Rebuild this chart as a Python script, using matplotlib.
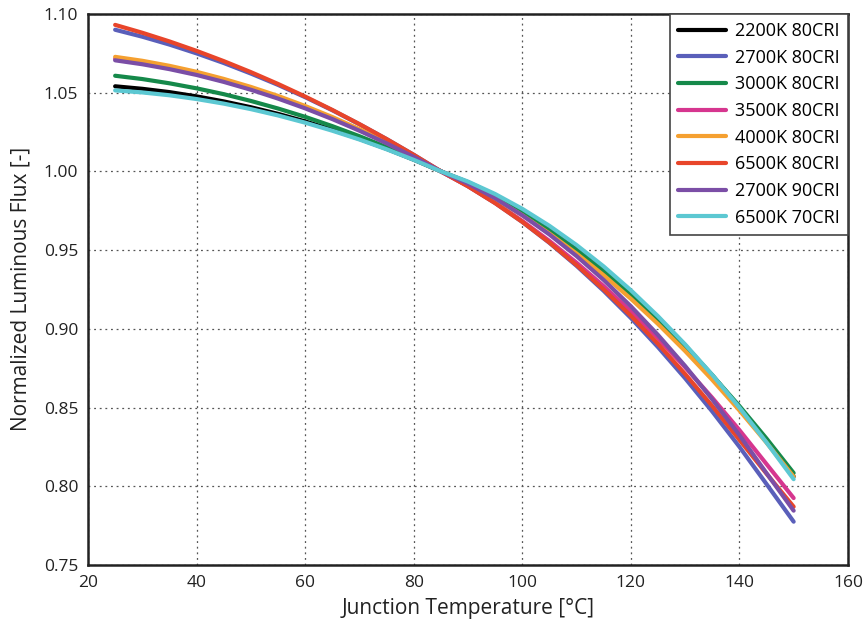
import matplotlib
matplotlib.use("Agg")
import matplotlib.pyplot as plt

plt.rcParams['font.family'] = ['Open Sans', 'DejaVu Sans']

temps = [25, 30, 35, 40, 45, 50, 55, 60, 65, 70, 75, 80, 85, 90, 95, 100,
         105, 110, 115, 120, 125, 130, 135, 140, 145, 150]

labels = ["2200K 80CRI", "2700K 80CRI", "3000K 80CRI", "3500K 80CRI",
          "4000K 80CRI", "6500K 80CRI", "2700K 90CRI", "6500K 70CRI"]

flux_2200k_80 = [1.054, 1.0524, 1.0503, 1.0476, 1.0444, 1.0407, 1.0365, 1.0317, 1.0264,
                 1.0206, 1.0143, 1.0074, 1.0, 0.9931, 0.9849, 0.9753, 0.9644, 0.9521,
                 0.9385, 0.9235, 0.9072, 0.8895, 0.8705, 0.8501, 0.8283, 0.8062]
flux_2700k_80 = [1.0899, 1.0855, 1.0805, 1.0749, 1.0688, 1.0621, 1.0549, 1.0471, 1.0388,
                 1.0299, 1.0205, 1.0105, 1.0, 0.9906, 0.9799, 0.9679, 0.9546, 0.9400,
                 0.9241, 0.9069, 0.8884, 0.8686, 0.8475, 0.8251, 0.8014, 0.7775]
flux_3000k_80 = [1.0607, 1.0586, 1.0559, 1.0527, 1.0490, 1.0447, 1.0399, 1.0346, 1.0287,
                 1.0223, 1.0154, 1.0080, 1.0, 0.9924, 0.9836, 0.9736, 0.9624, 0.9500,
                 0.9365, 0.9218, 0.9059, 0.8888, 0.8705, 0.8510, 0.8303, 0.8084]
flux_3500k_80 = [1.0715, 1.0690, 1.0659, 1.0621, 1.0577, 1.0527, 1.0470, 1.0407, 1.0338,
                 1.0263, 1.0181, 1.0094, 1.0, 0.9906, 0.9801, 0.9685, 0.9558, 0.9420,
                 0.9271, 0.9111, 0.8939, 0.8756, 0.8562, 0.8357, 0.8141, 0.7925]
flux_4000k_80 = [1.0727, 1.0702, 1.0670, 1.0632, 1.0587, 1.0536, 1.0479, 1.0415, 1.0345,
                 1.0268, 1.0185, 1.0096, 1.0, 0.9918, 0.9825, 0.9721, 0.9605, 0.9478,
                 0.9340, 0.9191, 0.9031, 0.8859, 0.8676, 0.8482, 0.8277, 0.8061]
flux_6500k_80 = [1.0930, 1.0880, 1.0825, 1.0765, 1.0700, 1.0630, 1.0555, 1.0475, 1.0390,
                 1.0300, 1.0205, 1.0105, 1.0, 0.9905, 0.9798, 0.9679, 0.9548, 0.9405,
                 0.9250, 0.9083, 0.8904, 0.8713, 0.8510, 0.8295, 0.8080, 0.7870]
flux_2700k_90 = [1.0705, 1.0680, 1.0649, 1.0612, 1.0568, 1.0518, 1.0462, 1.0400, 1.0332,
                 1.0258, 1.0178, 1.0092, 1.0, 0.9922, 0.9829, 0.9721, 0.9599, 0.9462,
                 0.9310, 0.9143, 0.8961, 0.8764, 0.8552, 0.8325, 0.8083, 0.7845]
flux_6500k_70 = [1.0514, 1.0501, 1.0483, 1.0459, 1.0430, 1.0395, 1.0355, 1.0309, 1.0258,
                 1.0202, 1.0140, 1.0073, 1.0, 0.9935, 0.9856, 0.9762, 0.9654, 0.9532,
                 0.9396, 0.9245, 0.9080, 0.8901, 0.8708, 0.8500, 0.8278, 0.8045]

series = [flux_2200k_80, flux_2700k_80, flux_3000k_80, flux_3500k_80,
          flux_4000k_80, flux_6500k_80, flux_2700k_90, flux_6500k_70]
colors = ["#000000", "#5a5fba", "#15894a", "#d6368f",
          "#f5a030", "#e8452a", "#7b4ea6", "#5cc8d2"]

fig = plt.figure(figsize=(8.67, 6.30), dpi=100)
ax = fig.add_axes([0.1015, 0.1032, 0.8765, 0.8748])

for lab, ys, c in zip(labels, series, colors):
    ax.plot(temps, ys, color=c, lw=3, label=lab, solid_capstyle='round',
            solid_joinstyle='round')

ax.set_xlim(20, 160)
ax.set_ylim(0.75, 1.10)
ax.set_xticks(range(20, 161, 20))
ax.set_yticks([0.75, 0.80, 0.85, 0.90, 0.95, 1.00, 1.05, 1.10])
ax.set_yticklabels([f"{v:.2f}" for v in ax.get_yticks()])
ax.grid(True, linestyle=(0, (1.5, 3)), color="#555555", linewidth=0.9)
ax.tick_params(length=0, labelsize=12.5, pad=7, colors="#222222")
for s in ax.spines.values():
    s.set_linewidth(1.8)
    s.set_color("#222222")

ax.set_xlabel("Junction Temperature [°C]", fontsize=15, color="#222222", labelpad=5)
ax.set_ylabel("Normalized Luminous Flux [-]", fontsize=15, color="#222222", labelpad=9)

leg = ax.legend(loc="upper right", fontsize=13, frameon=True, fancybox=False,
                borderaxespad=0.0, handlelength=2.65, labelspacing=0.48,
                handletextpad=0.5, borderpad=0.45)
leg.get_frame().set_edgecolor("#444444")
leg.get_frame().set_linewidth(1.2)
leg.get_frame().set_alpha(1)
for line in leg.get_lines():
    line.set_linewidth(3)

fig.savefig("out.png", dpi=100)
